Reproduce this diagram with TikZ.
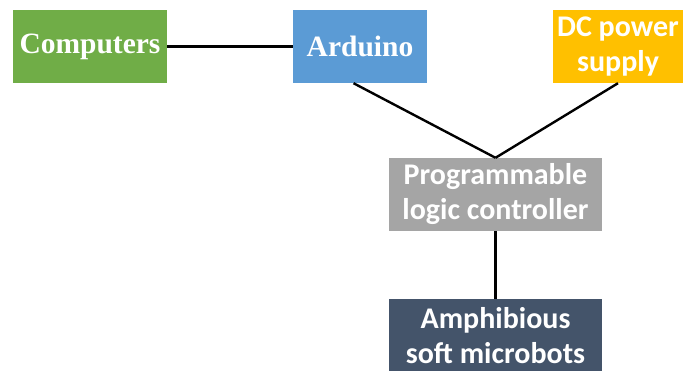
\documentclass[tikz,border=0pt]{standalone}
\usepackage{fontspec}
\setmainfont{Liberation Serif}
\newfontfamily\calibri{Carlito}
\usetikzlibrary{positioning}
\definecolor{pcgreen}{HTML}{70AD47}
\definecolor{ardblue}{HTML}{5B9BD5}
\definecolor{dcorange}{HTML}{FFC000}
\definecolor{plcgray}{HTML}{A5A5A5}
\definecolor{botslate}{HTML}{44546A}
\tikzset{box/.style={text=white, minimum height=73pt, inner sep=0pt, align=center},
         serifbox/.style={box, font=\fontsize{29.5}{34}\selectfont\bfseries},
         sansbox/.style={box, font=\calibri\fontsize{30}{35}\selectfont\bfseries},
         wire/.style={line width=2.4pt}}

\begin{document}
\begin{tikzpicture}[x=1pt,y=1pt]
    \useasboundingbox (0,0) rectangle (683,-370);
    \node[serifbox,fill=pcgreen,minimum width=154pt] (pc) at (90,-46.5) {Computers};
    \node[serifbox,fill=ardblue,minimum width=134pt] (ard) at (360,-46.5) {Arduino};
    \node[sansbox,fill=dcorange,minimum width=130pt] (dc) at (618,-46.5) {DC power\\supply};
    \node[sansbox,fill=plcgray,minimum width=213pt] (plc) at (495.5,-194.5) {Programmable\\logic controller};
    \node[sansbox,fill=botslate,minimum width=213pt] (bots) at (495.5,-335.5) {Amphibious\\soft microbots};

    \draw[wire] (pc.east) -- (ard.west);
    \draw[wire] (ard.-100) -- (plc.north);
    \draw[wire] (dc.south) -- (plc.north);
    \draw[wire] (plc.south) -- (bots.north);
\end{tikzpicture}
\end{document}
